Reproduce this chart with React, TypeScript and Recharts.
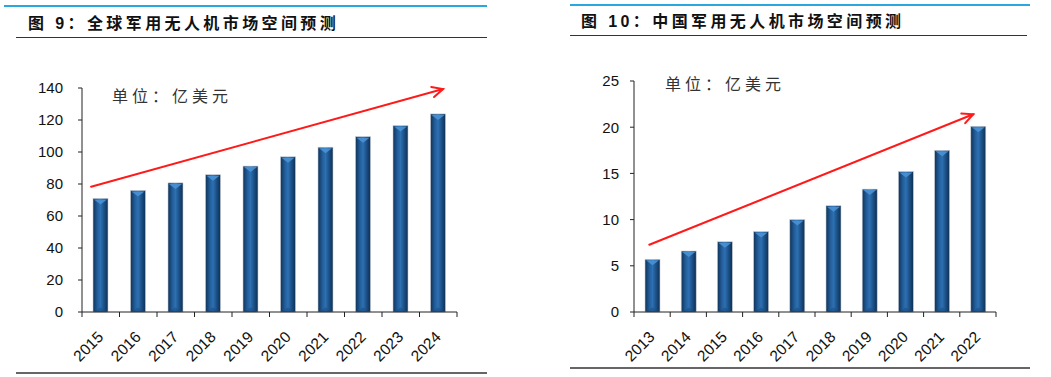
import { Bar, BarChart, ReferenceLine, XAxis, YAxis } from "recharts";

const globalYears = ["2015", "2016", "2017", "2018", "2019", "2020", "2021", "2022", "2023", "2024"];
const globalValues = [71, 76, 80.7, 85.8, 91.2, 97, 103, 109.6, 116.5, 123.8];
const globalTicks = [0, 20, 40, 60, 80, 100, 120, 140];
const globalTrend = [80, 138.5];

const chinaYears = ["2013", "2014", "2015", "2016", "2017", "2018", "2019", "2020", "2021", "2022"];
const chinaValues = [5.7, 6.6, 7.6, 8.7, 10.0, 11.5, 13.3, 15.2, 17.5, 20.1];
const chinaTicks = [0, 5, 10, 15, 20, 25];
const chinaTrend = [7.4, 21.6];

const LATIN = '"Liberation Sans", Arial, "Noto Sans CJK SC", sans-serif';
const CJK = '"Liberation Sans", "Noto Sans CJK SC", sans-serif';
const Y_AXIS_W = 50;

// eslint-disable-next-line @typescript-eslint/no-explicit-any
function ShadedBar({ x, y, width, height, gradId }: any) {
  if (!height || height <= 0) return null;
  const tri = Math.min(width / 2, height);
  return (
    <g>
      <rect x={x} y={y} width={width} height={height} fill={`url(#${gradId})`} stroke="#c9ced6" strokeWidth={0.6} />
      <polygon
        points={`${x + 1},${y + 1} ${x + width - 1},${y + 1} ${x + width / 2},${y + tri * 0.8}`}
        fill="#4a92d4"
        opacity={0.9}
      />
      <polygon
        points={`${x + 1},${y + height} ${x + width - 1},${y + height} ${x + width / 2},${y + height - tri * 0.6}`}
        fill="#1d4f82"
        opacity={0.6}
      />
    </g>
  );
}

// eslint-disable-next-line @typescript-eslint/no-explicit-any
function YearTick({ x, y, payload, index, step, count }: any) {
  const half = step / 2;
  const ax = x + 3.5;
  const ay = y + 21;
  return (
    <g>
      <line x1={x - half} y1={y - 5} x2={x - half} y2={y} stroke="#222" />
      {index === count - 1 && <line x1={x + half} y1={y - 5} x2={x + half} y2={y} stroke="#222" />}
      <text
        x={ax}
        y={ay}
        transform={`rotate(-45, ${ax}, ${ay})`}
        textAnchor="end"
        fontSize={15.5}
        fontFamily={LATIN}
        fill="#111"
      >
        {payload.value}
      </text>
    </g>
  );
}

// eslint-disable-next-line @typescript-eslint/no-explicit-any
function TrendArrow({ x1, y1, x2, y2, extStart = 0, extEnd = 0 }: any) {
  const ang = Math.atan2(y2 - y1, x2 - x1);
  const c = Math.cos(ang);
  const s = Math.sin(ang);
  const sx = x1 - extStart * c;
  const sy = y1 - extStart * s;
  const ex = x2 + extEnd * c;
  const ey = y2 + extEnd * s;
  const len = 12;
  const spread = 0.45;
  const ax = ex - len * Math.cos(ang - spread);
  const ay = ey - len * Math.sin(ang - spread);
  const bx = ex - len * Math.cos(ang + spread);
  const by = ey - len * Math.sin(ang + spread);
  return (
    <g stroke="#ff1a1a" strokeWidth={2} fill="none" strokeLinecap="round">
      <line x1={sx} y1={sy} x2={ex} y2={ey} />
      <polyline points={`${ax},${ay} ${ex},${ey} ${bx},${by}`} />
    </g>
  );
}

function MarketChart({
  years,
  values,
  ticks,
  trend,
  width,
  margin,
  yTickMargin,
  gradId,
  extStart,
  extEnd,
}: {
  years: string[];
  values: number[];
  ticks: number[];
  trend: number[];
  width: number;
  margin: { top: number; right: number; bottom: number; left: number };
  yTickMargin: number;
  gradId: string;
  extStart: number;
  extEnd: number;
}) {
  const data = years.map((year, i) => ({ year, value: values[i] }));
  const step = (width - margin.left - margin.right - Y_AXIS_W) / years.length;
  return (
    <BarChart width={width} height={377} data={data} margin={margin} barCategoryGap={0}>
      <defs>
        <linearGradient id={gradId} x1="0" y1="0" x2="1" y2="0">
          <stop offset="0%" stopColor="#0f3358" />
          <stop offset="30%" stopColor="#235e9b" />
          <stop offset="50%" stopColor="#2d70b3" />
          <stop offset="70%" stopColor="#1e558d" />
          <stop offset="100%" stopColor="#0d2f52" />
        </linearGradient>
      </defs>
      <XAxis
        dataKey="year"
        height={50}
        axisLine={{ stroke: "#222" }}
        tickLine={false}
        tickSize={5}
        tickMargin={0}
        interval={0}
        tick={(props) => <YearTick {...props} step={step} count={years.length} />}
      />
      <YAxis
        width={Y_AXIS_W}
        domain={[ticks[0], ticks[ticks.length - 1]]}
        ticks={ticks}
        interval={0}
        axisLine={{ stroke: "#222" }}
        tickLine={{ stroke: "#222" }}
        tickSize={4}
        tickMargin={yTickMargin}
        tick={{ fontSize: 15, fontFamily: LATIN, fill: "#111" }}
      />
      <Bar
        dataKey="value"
        barSize={15}
        isAnimationActive={false}
        shape={(props: any) => <ShadedBar {...props} gradId={gradId} />}
      />
      <ReferenceLine
        segment={[
          { x: years[0], y: trend[0] },
          { x: years[years.length - 1], y: trend[1] },
        ]}
        shape={(props: any) => <TrendArrow {...props} extStart={extStart} extEnd={extEnd} />}
      />
    </BarChart>
  );
}

const titleStyle: React.CSSProperties = {
  position: "absolute",
  fontFamily: CJK,
  fontWeight: 700,
  fontSize: 16,
  letterSpacing: 3.4,
  color: "#111",
  whiteSpace: "nowrap",
  lineHeight: "18px",
};

const unitStyle: React.CSSProperties = {
  position: "absolute",
  fontFamily: '"Noto Sans CJK SC", sans-serif',
  fontSize: 16,
  letterSpacing: 4,
  color: "#333",
  whiteSpace: "nowrap",
  lineHeight: "18px",
};

function Rule({ left, top, width, height, color }: { left: number; top: number; width: number; height: number; color: string }) {
  return <div style={{ position: "absolute", left, top, width, height, background: color }} />;
}

export default function App() {
  return (
    <div style={{ position: "absolute", left: 0, top: 0, width: 1051, height: 377, background: "#fff", overflow: "hidden" }}>
      <Rule left={4} top={5} width={483} height={2} color="#2ba7e0" />
      <Rule left={16} top={37} width={471} height={1} color="#333" />
      <Rule left={16} top={372} width={471} height={1.5} color="#666" />
      <Rule left={570} top={4} width={460} height={2} color="#2ba7e0" />
      <Rule left={570} top={35} width={457} height={1} color="#333" />
      <Rule left={570} top={367} width={460} height={1.5} color="#666" />

      <div style={{ ...titleStyle, left: 28, top: 15 }}>图 9：全球军用无人机市场空间预测</div>
      <div style={{ ...titleStyle, left: 581, top: 13 }}>图 10：中国军用无人机市场空间预测</div>

      <div style={{ position: "absolute", left: 0, top: 0 }}>
        <MarketChart
          years={globalYears}
          values={globalValues}
          ticks={globalTicks}
          trend={globalTrend}
          width={487}
          margin={{ top: 88, right: 30, bottom: 15, left: 32 }}
          yTickMargin={15}
          gradId="gradGlobal"
          extStart={10}
          extEnd={5}
        />
      </div>
      <div style={{ position: "absolute", left: 520, top: 0 }}>
        <MarketChart
          years={chinaYears}
          values={chinaValues}
          ticks={chinaTicks}
          trend={chinaTrend}
          width={531}
          margin={{ top: 81, right: 55, bottom: 15, left: 64 }}
          yTickMargin={11}
          gradId="gradChina"
          extStart={3}
          extEnd={-5}
        />
      </div>

      <div style={{ ...unitStyle, left: 112, top: 86 }}>单位：亿美元</div>
      <div style={{ ...unitStyle, left: 665, top: 74 }}>单位：亿美元</div>
    </div>
  );
}
